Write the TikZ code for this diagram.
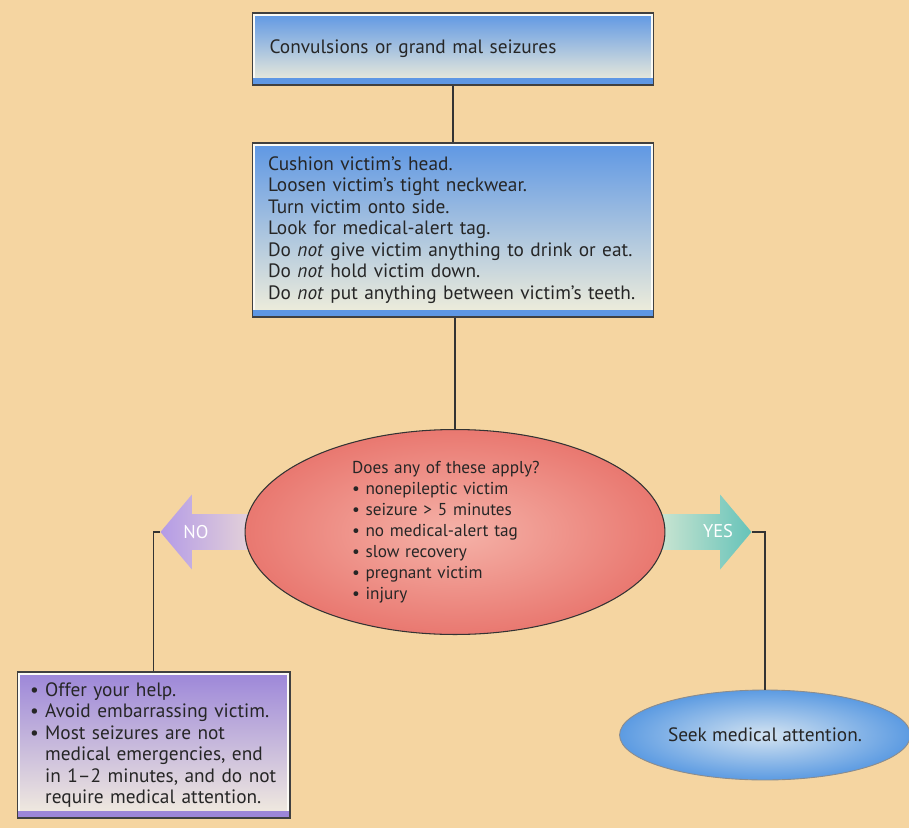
\documentclass[tikz,border=0pt]{standalone}
\usepackage{fontspec}
\setmainfont{PT Sans}
\usetikzlibrary{shapes.geometric,shapes.arrows}

\definecolor{bgpeach}{HTML}{F5D5A1}
\definecolor{panelblue}{HTML}{5E97E4}
\definecolor{panelcream}{HTML}{F2EFDA}
\definecolor{panelpurple}{HTML}{9C86D9}
\definecolor{purplecream}{HTML}{F3EDDF}
\definecolor{qpink}{HTML}{F5B2A8}
\definecolor{qred}{HTML}{E97870}
\definecolor{nopurple}{HTML}{B49BE6}
\definecolor{nopale}{HTML}{EEDDD6}
\definecolor{yesteal}{HTML}{66C3B9}
\definecolor{yespale}{HTML}{DDEBD6}
\definecolor{seeklight}{HTML}{D3E3F1}
\definecolor{seekblue}{HTML}{5C9BE2}

\begin{document}
\begin{tikzpicture}[x=0.02cm,y=-0.02cm]
  \tikzset{panel/.style 2 args={rectangle,draw=black!75,line width=0.6pt,top color=#1,bottom color=#2,
      align=left,text=black!85,font=\fontsize{11}{12.2}\selectfont,
      path picture={
        \draw[white!70!#2,line width=3pt] (path picture bounding box.south west) rectangle (path picture bounding box.north east);
        \fill[#1] ([yshift=0.13cm]path picture bounding box.south west) rectangle (path picture bounding box.south east);}}}
  \tikzset{choice/.style={single arrow,draw=none,inner xsep=0pt,inner ysep=0.35cm,minimum height=2.2cm,
      single arrow head extend=0.39cm,single arrow tip angle=100}}
  \tikzset{choicetext/.style={text=white,font=\fontsize{10.5}{12}\selectfont}}
  \tikzset{link/.style={draw=black!80,line width=0.6pt}}

  \path[fill=bgpeach,use as bounding box] (0,0) rectangle (909,828);

  % yes / no arrows sit under the question
  \node[choice,shape border rotate=180,left color=nopurple,right color=nopale,anchor=tip] (noarrow) at (160,532) {};
  \node[choice,left color=yespale,right color=yesteal,anchor=tip] (yesarrow) at (752,532) {};
  \node[choicetext] (notext) at (196,532) {NO};
  \node[choicetext] (yestext) at (718,531) {YES};

  \node[panel={panelblue}{panelcream},minimum width=8.02cm,minimum height=1.44cm,
        text width=7.34cm,inner xsep=0.34cm] (title) at (453,49) {Convulsions or grand mal seizures};

  \node[panel={panelblue}{panelcream},minimum width=8.04cm,minimum height=3.48cm,
        text width=7.4cm,inner xsep=0.32cm] (steps) at (453,230) {%
    Cushion victim's head.\\
    Loosen victim's tight neckwear.\\
    Turn victim onto side.\\
    Look for medical-alert tag.\\
    Do \textit{not} give victim anything to drink or eat.\\
    Do \textit{not} hold victim down.\\
    Do \textit{not} put anything between victim's teeth.};

  \node[ellipse,draw=black!80,line width=0.6pt,inner color=qpink,outer color=qred,
        minimum width=8.4cm,minimum height=4.1cm,inner sep=0pt,text width=4.12cm,align=left,
        text=black!85,font=\fontsize{9.8}{12}\selectfont] (question) at (455,532) {%
    Does any of these apply?\\
    \textbullet\ nonepileptic victim\\
    \textbullet\ seizure > 5 minutes\\
    \textbullet\ no medical-alert tag\\
    \textbullet\ slow recovery\\
    \textbullet\ pregnant victim\\
    \textbullet\ injury};

  \node[panel={panelpurple}{purplecream},minimum width=5.46cm,minimum height=2.92cm,
        text width=4.94cm,inner xsep=0.26cm] (offer) at (153.5,745) {%
    \textbullet\ Offer your help.\\
    \textbullet\ Avoid embarrassing victim.\\
    \textbullet\ Most seizures are not\\
    \phantom{\textbullet\ }medical emergencies, end\\
    \phantom{\textbullet\ }in 1--2 minutes, and do not\\
    \phantom{\textbullet\ }require medical attention.};

  \node[ellipse,draw=black!45,line width=0.5pt,inner color=seeklight,outer color=seekblue,
        minimum width=5.72cm,minimum height=1.8cm,text=black!85,
        font=\fontsize{11}{12}\selectfont] (seek) at (765,735) {Seek medical attention.};

  \draw[link] (title) -- (steps);
  \draw[link] (steps.south -| question.north) -- (question.north);
  \draw[link] (noarrow.tip) -| (offer.north);
  \draw[link] (yesarrow.tip) -| (seek.north);
\end{tikzpicture}
\end{document}
